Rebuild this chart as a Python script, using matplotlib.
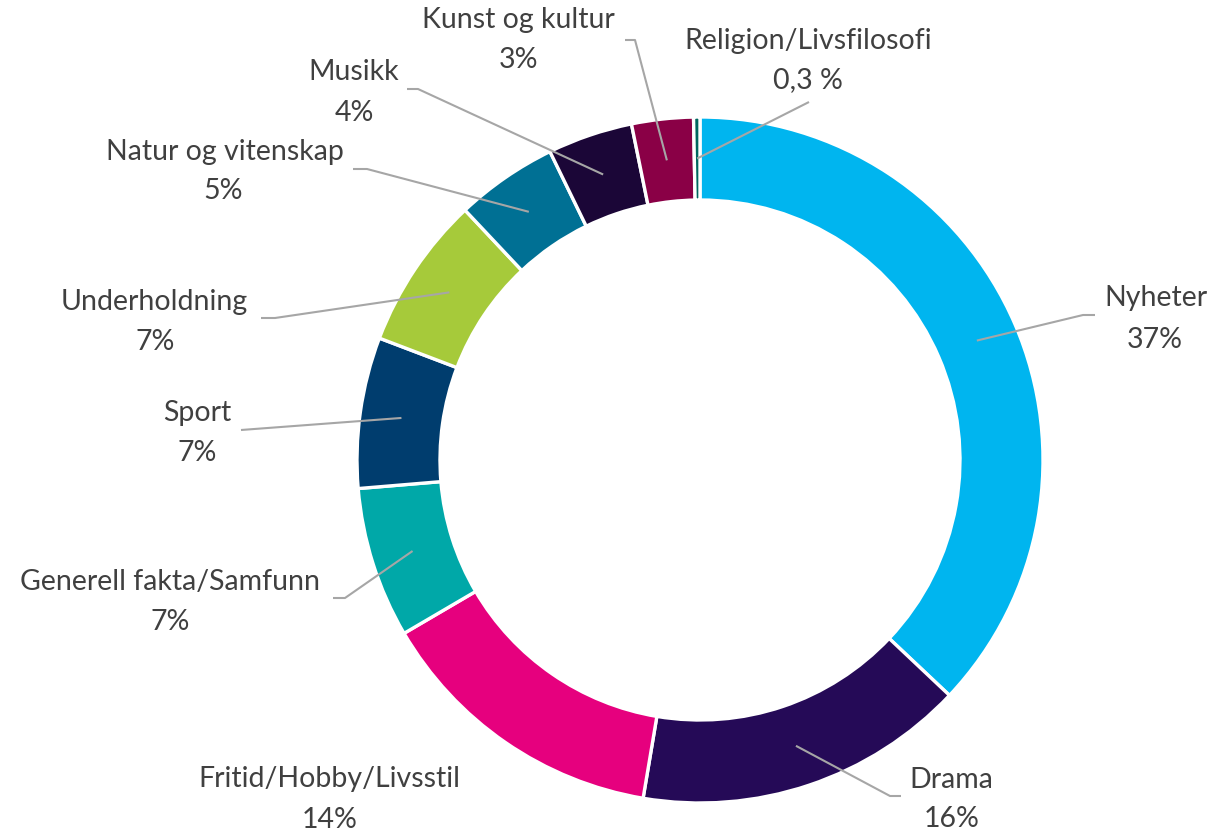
import numpy as np
import matplotlib
matplotlib.use("Agg")
import matplotlib.pyplot as plt

# ---- data ----
categories = ["Nyheter", "Drama", "Fritid/Hobby/Livsstil", "Generell fakta/Samfunn",
              "Sport", "Underholdning", "Natur og vitenskap", "Musikk",
              "Kunst og kultur", "Religion/Livsfilosofi"]
values = [37.0, 15.6, 13.9, 7.1, 7.1, 7.2, 4.8, 4.0, 2.9, 0.3]
pct_labels = ["37%", "16%", "14%", "7%", "7%", "7%", "5%", "4%", "3%", "0,3 %"]
colors = ["#00B5EF", "#250A57", "#E6007E", "#00A8A8", "#003D6E",
          "#A6CA3A", "#007094", "#1B0637", "#8A0046", "#00665F"]

W, H = 1215, 833
fig = plt.figure(figsize=(W / 100, H / 100), dpi=100)
ax = fig.add_axes([0, 0, 1, 1])

def P(x, y):
    return x, H - y

cx, cy = P(700, 460)
R_out, ring_w = 343, 83
ax.pie(values, colors=colors, startangle=90, counterclock=False,
       center=(cx, cy), radius=R_out, frame=True,
       wedgeprops=dict(width=ring_w, edgecolor="white", linewidth=2.4))
ax.set_xlim(0, W)
ax.set_ylim(0, H)
ax.set_aspect("equal")
ax.axis("off")

# label layout (pixel positions): name center, pct center, leader path (None = no leader)
layout = [
    ((1156, 298), (1155, 340), [(1083, 315), (1095, 315)]),
    ((951, 780), (952, 819), [(890, 796), (901, 796)]),
    ((329, 779), (330, 820), None),
    ((170, 582), (170, 622), [(345, 598), (333, 598)]),
    ((197, 413), (197, 453), [(241, 430)]),
    ((154, 302), (155, 342), [(275, 318), (261, 318)]),
    ((225, 152), (223, 191), [(367, 169), (353, 169)]),
    ((354, 72), (354, 113), [(418, 89), (407, 89)]),
    ((518, 20), (519, 60), [(635, 40), (625, 40)]),
    ((808, 41), (808, 80), [(809, 102)]),
]

txt_kw = dict(ha="center", va="center", fontsize=20.5, color="#404040",
              family=["Lato", "DejaVu Sans"])
total = sum(values)
cum = 0.0
r_mid = R_out - ring_w / 2
for cat, v, pl, (npos, ppos, path) in zip(categories, values, pct_labels, layout):
    mid = cum + v / 2
    cum += v
    ang = np.deg2rad(90 - 360 * mid / total)
    sx, sy = cx + r_mid * np.cos(ang), cy + r_mid * np.sin(ang)
    if path is not None:
        xs = [sx] + [P(*p)[0] for p in path]
        ys = [sy] + [P(*p)[1] for p in path]
        ax.plot(xs, ys, color="#A6A6A6", lw=1.5, solid_capstyle="butt", zorder=5)
    ax.text(*P(*npos), cat, **txt_kw)
    ax.text(*P(*ppos), pl, **txt_kw)

fig.savefig("out.png", dpi=100, facecolor="white")
